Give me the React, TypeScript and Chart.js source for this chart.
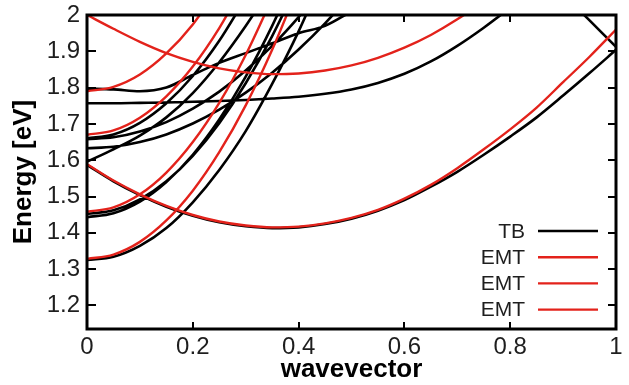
import React, { useEffect, useRef } from 'react';
import { Chart, registerables } from 'chart.js';

Chart.register(...registerables);

// Wavevector sampling grid shared by most bands
const kGrid = [0, 0.05, 0.1, 0.15, 0.2, 0.25, 0.3, 0.35, 0.4, 0.45, 0.5, 0.55, 0.6, 0.65, 0.7, 0.75, 0.8, 0.85, 0.9, 0.95, 1.0];

// Tight-binding bands (energies in eV on kGrid)
const tbBand1 = [1.325, 1.334, 1.364, 1.413, 1.484, 1.573, 1.68, 1.81, 1.955, 2.12];
const tbBand2 = [1.452, 1.462, 1.492, 1.542, 1.612, 1.702, 1.812, 1.942, 2.092];
const tbBand3 = [1.443, 1.454, 1.486, 1.54, 1.615, 1.712, 1.83, 1.97, 2.131];
const tbBand4 = [1.66, 1.671, 1.703, 1.757, 1.832, 1.929, 2.047];
const tbBand5 = [1.658, 1.663, 1.679, 1.705, 1.742, 1.789, 1.847, 1.915, 1.994, 2.083];
const tbBand6 = [1.633, 1.637, 1.65, 1.671, 1.701, 1.739, 1.786, 1.841, 1.905, 1.977, 2.058];
const tbBand7 = [1.596, 1.63, 1.668, 1.718, 1.785, 1.87, 1.97, 2.08];
const tbBand8 = [1.797, 1.795, 1.79, 1.8, 1.835, 1.868, 1.895, 1.922, 1.95, 1.97, 2.01];
const tbBand9 = [1.757, 1.757, 1.758, 1.759, 1.761, 1.763, 1.766, 1.77, 1.775, 1.783, 1.795, 1.813, 1.838, 1.872, 1.915, 1.965, 2.02];
const tbBand10 = [1.587, 1.542, 1.504, 1.472, 1.447, 1.429, 1.418, 1.413, 1.415, 1.424, 1.439, 1.461, 1.49, 1.527, 1.568, 1.615, 1.665, 1.718, 1.778, 1.84, 1.904];
const tbEdgeK = [0.9, 0.95, 1.0];
const tbEdgeBand = [2.058, 1.985, 1.912];

// Effective-mass bands (energies in eV on kGrid)
const emtBandA = [1.328, 1.34, 1.375, 1.434, 1.516, 1.622, 1.751, 1.904, 2.08];
const emtBandFold = [1.589, 1.544, 1.506, 1.474, 1.449, 1.431, 1.42, 1.415, 1.417, 1.426, 1.441, 1.463, 1.494, 1.532, 1.578, 1.63, 1.685, 1.745, 1.815, 1.885, 1.96];
const emtBandB = [1.458, 1.47, 1.506, 1.566, 1.65, 1.758, 1.89, 2.046];
const emtBandC = [1.67, 1.682, 1.717, 1.776, 1.858, 1.964, 2.093];
const emtBandD = [1.79, 1.802, 1.836, 1.894, 1.974, 2.078];
const emtBandTop = [2.0, 1.962, 1.926, 1.895, 1.871, 1.853, 1.842, 1.837, 1.839, 1.847, 1.861, 1.882, 1.91, 1.945, 1.988, 2.038];

// Axis ticks
const energyTicks = [1.2, 1.3, 1.4, 1.5, 1.6, 1.7, 1.8, 1.9, 2.0];
const kTicks = [0, 0.2, 0.4, 0.6, 0.8, 1.0];

const TB_COLOR = '#000000';
const EMT_COLOR = '#e3221b';
const TEXT_COLOR = '#1e1e1e';
const FONT = "'Liberation Sans', Arial, sans-serif";

type Pt = { x: number; y: number | null };

const curve = (ys: number[], xs: number[] = kGrid): Pt[] => ys.map((y, i) => ({ x: xs[i], y }));

// Concatenate several bands into one dataset, separated by gaps
const joinCurves = (list: Pt[][]): Pt[] =>
  list.flatMap((c, i) => (i ? [{ x: c[0].x, y: null }, ...c] : c));

const fmt = (v: number) => (Number.isInteger(v) ? String(v) : v.toFixed(1));

// Inward tick marks on all four sides and the plot frame
const framePlugin = {
  id: 'bandFrame',
  afterDatasetsDraw(chart: any) {
    const { ctx, chartArea: a, scales } = chart;
    ctx.save();
    ctx.strokeStyle = '#000';
    ctx.lineWidth = 2;
    ctx.beginPath();
    for (const v of energyTicks) {
      const y = Math.round(scales.y.getPixelForValue(v));
      ctx.moveTo(a.left, y);
      ctx.lineTo(a.left + 9, y);
      ctx.moveTo(a.right, y);
      ctx.lineTo(a.right - 8, y);
    }
    for (const v of kTicks) {
      const x = Math.round(scales.x.getPixelForValue(v));
      ctx.moveTo(x, a.bottom);
      ctx.lineTo(x, a.bottom - 7);
      ctx.moveTo(x, a.top);
      ctx.lineTo(x, a.top + 7);
    }
    ctx.stroke();
    ctx.lineWidth = 3;
    ctx.strokeRect(a.left, a.top, a.right - a.left, a.bottom - a.top);
    ctx.restore();
  },
};

// Key placed inside the lower-right corner of the plot
const keyPlugin = {
  id: 'bandKey',
  afterDatasetsDraw(chart: any) {
    const { ctx, chartArea: a } = chart;
    ctx.save();
    ctx.font = `21px ${FONT}`;
    ctx.textAlign = 'right';
    ctx.textBaseline = 'middle';
    chart.data.datasets.forEach((ds: any, i: number) => {
      const y = a.bottom - 98 + i * 26.2;
      ctx.fillStyle = TEXT_COLOR;
      ctx.fillText(ds.label, a.right - 91, y + 1);
      ctx.strokeStyle = ds.borderColor;
      ctx.lineWidth = ds.borderWidth;
      ctx.beginPath();
      ctx.moveTo(a.right - 78, y);
      ctx.lineTo(a.right - 18, y);
      ctx.stroke();
    });
    ctx.restore();
  },
};

export default function App() {
  const canvasRef = useRef<HTMLCanvasElement | null>(null);

  useEffect(() => {
    if (!canvasRef.current) return;

    const tbData = joinCurves([
      curve(tbBand10),
      curve(tbBand1),
      curve(tbBand2),
      curve(tbBand3),
      curve(tbBand4),
      curve(tbBand5),
      curve(tbBand6),
      curve(tbBand7),
      curve(tbBand8),
      curve(tbBand9),
      curve(tbEdgeBand, tbEdgeK),
    ]);

    const lineStyle = {
      showLine: true,
      pointRadius: 0,
      pointHoverRadius: 0,
      cubicInterpolationMode: 'monotone' as const,
      spanGaps: false,
    };

    const chart = new Chart(canvasRef.current, {
      type: 'scatter',
      data: {
        datasets: [
          { label: 'TB', data: tbData, borderColor: TB_COLOR, borderWidth: 2.6, order: 2, ...lineStyle },
          {
            label: 'EMT',
            data: joinCurves([curve(emtBandA), curve(emtBandFold)]),
            borderColor: EMT_COLOR,
            borderWidth: 2.4,
            order: 1,
            ...lineStyle,
          },
          {
            label: 'EMT',
            data: joinCurves([curve(emtBandB), curve(emtBandC)]),
            borderColor: EMT_COLOR,
            borderWidth: 2.4,
            order: 1,
            ...lineStyle,
          },
          {
            label: 'EMT',
            data: joinCurves([curve(emtBandD), curve(emtBandTop)]),
            borderColor: EMT_COLOR,
            borderWidth: 2.4,
            order: 1,
            ...lineStyle,
          },
        ],
      },
      options: {
        responsive: false,
        animation: false,
        devicePixelRatio: 1,
        layout: { padding: { top: 15, right: 13, left: 0, bottom: 0 } },
        plugins: {
          legend: { display: false },
          tooltip: { enabled: false },
        },
        scales: {
          x: {
            type: 'linear',
            min: 0,
            max: 1,
            afterBuildTicks: (scale: any) => {
              scale.ticks = kTicks.map((v) => ({ value: v }));
            },
            afterFit: (scale: any) => {
              scale.height = 56;
              scale.paddingLeft = 0;
              scale.paddingRight = 0;
            },
            grid: { display: false, drawTicks: false },
            border: { display: false },
            ticks: {
              padding: 4,
              maxRotation: 0,
              autoSkip: false,
              color: TEXT_COLOR,
              font: { family: FONT, size: 24 },
              callback: (v: any) => fmt(Number(v)),
            },
            title: {
              display: true,
              text: 'wavevector',
              color: '#000',
              padding: { top: 0, bottom: 0 },
              font: { family: FONT, size: 26, weight: 'bold' },
            },
          },
          y: {
            type: 'linear',
            min: 1.135,
            max: 2.0,
            afterBuildTicks: (scale: any) => {
              scale.ticks = energyTicks.map((v) => ({ value: v }));
            },
            afterFit: (scale: any) => {
              scale.width = 87;
              scale.paddingTop = 0;
              scale.paddingBottom = 0;
            },
            grid: { display: false, drawTicks: false },
            border: { display: false },
            ticks: {
              padding: 7,
              autoSkip: false,
              color: TEXT_COLOR,
              font: { family: FONT, size: 24 },
              callback: (v: any) => fmt(Number(v)),
            },
            title: {
              display: true,
              text: 'Energy [eV]',
              color: '#000',
              padding: { top: 8, bottom: 0 },
              font: { family: FONT, size: 26, weight: 'bold' },
            },
          },
        },
      },
      plugins: [framePlugin, keyPlugin],
    });

    return () => chart.destroy();
  }, []);

  return (
    <div style={{ position: 'fixed', left: 0, top: 0, width: 629, height: 385, background: '#fff' }}>
      <canvas ref={canvasRef} width={629} height={385} />
    </div>
  );
}
